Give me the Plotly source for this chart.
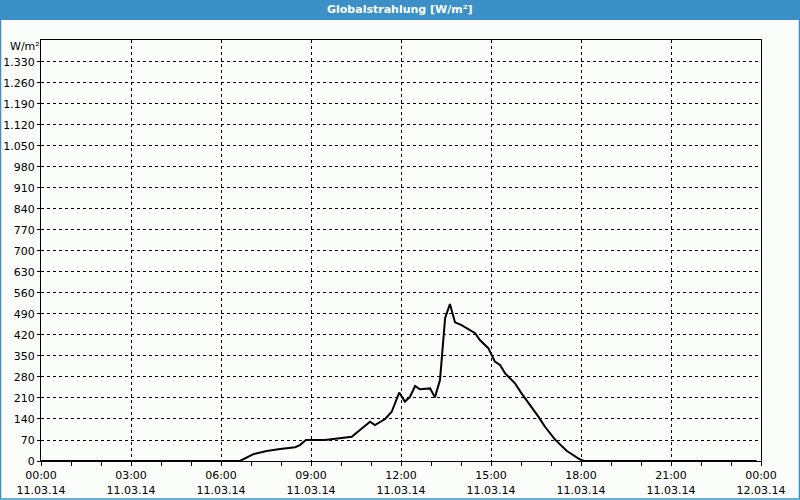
import plotly.graph_objects as go

# Data: time (hours of 11.03.14) and global radiation values [W/m²]
hours = [0.0, 6.63, 7.08, 7.52, 7.97, 8.47, 8.63, 8.83, 9.47, 9.86, 10.36, 10.63,
         10.97, 11.13, 11.47, 11.69, 11.94, 12.13, 12.3, 12.47, 12.63, 12.97, 13.13,
         13.3, 13.47, 13.63, 13.8, 14.02, 14.47, 14.63, 14.91, 15.13, 15.3, 15.47,
         15.63, 15.8, 16.0, 16.19, 16.41, 16.58, 16.8, 17.13, 17.52, 17.86, 17.97,
         18.1, 23.85]
values = [0, 0, 23, 33, 40, 46, 53, 70, 70, 75, 81, 103,
          131, 120, 140, 164, 228, 198, 214, 250, 239, 242, 212,
          270, 476, 523, 462, 453, 426, 403, 376, 331, 320, 292,
          276, 259, 228, 203, 172, 148, 114, 72, 34, 12, 5,
          0, 0]

x_tickvals = [0, 3, 6, 9, 12, 15, 18, 21, 24]
x_ticktext = ["00:00<br>11.03.14", "03:00<br>11.03.14", "06:00<br>11.03.14",
              "09:00<br>11.03.14", "12:00<br>11.03.14", "15:00<br>11.03.14",
              "18:00<br>11.03.14", "21:00<br>11.03.14", "00:00<br>12.03.14"]
y_tickvals = list(range(0, 1331, 70))
y_ticktext = ["0", "70", "140", "210", "280", "350", "420", "490", "560", "630",
              "700", "770", "840", "910", "980", "1.050", "1.120", "1.190",
              "1.260", "1.330"]

title_text = "Globalstrahlung [W/m²]"
unit_text = "W/m²"

W, H = 800, 500
L, R, T, B = 41, 39, 40, 39
PW, PH = W - L - R, H - T - B

def px_x(p):
    return (p - L) / PW

def px_y(p):
    return (H - B - p) / PH

blue = "#3C90C8"
bg = "#FAFDFA"

fig = go.Figure()
fig.add_trace(go.Scatter(x=hours, y=values, mode="lines",
                         line=dict(color="black", width=2), hoverinfo="skip"))

fig.update_layout(
    width=W, height=H,
    margin=dict(l=L, r=R, t=T, b=B, autoexpand=False),
    paper_bgcolor=bg, plot_bgcolor=bg,
    showlegend=False,
    font=dict(family="DejaVu Sans", size=11, color="black"),
    xaxis=dict(range=[0, 24], tickmode="array", tickvals=x_tickvals, ticktext=x_ticktext,
               showgrid=True, gridcolor="black", gridwidth=1, griddash="3px,3px",
               showline=True, linecolor="black", linewidth=1, mirror=True,
               ticks="outside", ticklen=4, tickcolor="black", zeroline=False,
               minor=dict(tickmode="linear", tick0=0, dtick=1, ticks="outside",
                          ticklen=4, tickcolor="black", showgrid=False),
               tickfont=dict(size=11), fixedrange=True, automargin=False),
    yaxis=dict(range=[0, 1403], tickmode="array", tickvals=y_tickvals, ticktext=y_ticktext,
               showgrid=True, gridcolor="black", gridwidth=1, griddash="3px,3px",
               showline=True, linecolor="black", linewidth=1, mirror=True,
               ticks="outside", ticklen=3, tickcolor="black", zeroline=False,
               tickfont=dict(size=11), fixedrange=True, automargin=False),
    shapes=[
        dict(type="rect", xref="paper", yref="paper",
             x0=px_x(0), x1=px_x(W), y0=px_y(20), y1=px_y(0),
             fillcolor=blue, line=dict(width=0), layer="above"),
        dict(type="rect", xref="paper", yref="paper",
             x0=px_x(0.5), x1=px_x(W - 0.5), y0=px_y(H - 1), y1=px_y(0.5),
             fillcolor="rgba(0,0,0,0)", line=dict(color=blue, width=1.5), layer="above"),
    ],
    annotations=[
        dict(text="<b>" + title_text + "</b>", xref="paper", yref="paper",
             x=px_x(400), y=px_y(10), showarrow=False, xanchor="center", yanchor="middle",
             font=dict(color="white", size=11, family="DejaVu Sans")),
        dict(text=unit_text, xref="paper", yref="paper",
             x=px_x(8), y=px_y(46), showarrow=False, xanchor="left", yanchor="middle",
             font=dict(size=11)),
    ],
)

fig.write_html("out.html")
